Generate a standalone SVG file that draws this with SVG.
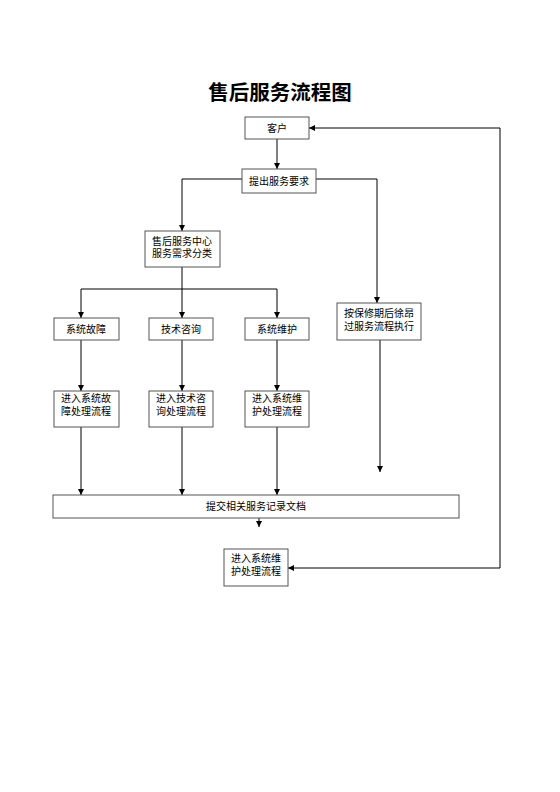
<svg xmlns="http://www.w3.org/2000/svg" width="560" height="792" viewBox="0 0 560 792">
<style>
.box{fill:#fff;stroke:#555;stroke-width:1}
.t{font-family:"Liberation Sans","Noto Sans CJK SC",sans-serif;font-size:10px;fill:#000;text-anchor:middle}
.title{font-family:"Noto Sans CJK SC",sans-serif;font-size:20.5px;font-weight:bold;fill:#000;text-anchor:middle}
.ln{fill:none;stroke:#000;stroke-width:1}
</style>
<defs>
<marker id="ar" markerWidth="6" markerHeight="6" refX="6" refY="3" orient="auto-start-reverse" markerUnits="userSpaceOnUse">
<path d="M0,0 L6,3 L0,6 Z" fill="#000"/>
</marker>
</defs>
<rect width="560" height="792" fill="#fff"/>
<text class="title" x="280" y="100">售后服务流程图</text>
<g id="connectors">
<path class="ln" d="M277,139 V169" marker-end="url(#ar)"/>
<path class="ln" d="M242,179 H182 V231" marker-end="url(#ar)"/>
<path class="ln" d="M316,179 H377 V303" marker-end="url(#ar)"/>
<path class="ln" d="M182,267 V318" marker-end="url(#ar)"/>
<path class="ln" d="M81,289 H277"/>
<path class="ln" d="M81,289 V318" marker-end="url(#ar)"/>
<path class="ln" d="M277,289 V318" marker-end="url(#ar)"/>
<path class="ln" d="M81,340 V391" marker-end="url(#ar)"/>
<path class="ln" d="M182,340 V391" marker-end="url(#ar)"/>
<path class="ln" d="M277,340 V391" marker-end="url(#ar)"/>
<path class="ln" d="M81,427 V495" marker-end="url(#ar)"/>
<path class="ln" d="M182,427 V495" marker-end="url(#ar)"/>
<path class="ln" d="M277,427 V495" marker-end="url(#ar)"/>
<path class="ln" d="M380,340 V472" marker-end="url(#ar)"/>
<path class="ln" d="M259,518 V527" marker-end="url(#ar)"/>
<path class="ln" d="M288,568 H500 V128 H309" marker-start="url(#ar)" marker-end="url(#ar)"/>
</g>
<g id="n_kehu"><rect class="box" x="245" y="117" width="64" height="22"/><text class="t" x="277" y="132">客户</text></g>
<g id="n_tichu"><rect class="box" x="242" y="169" width="74" height="24"/><text class="t" x="279" y="185">提出服务要求</text></g>
<g id="n_zhongxin"><rect class="box" x="145" y="231" width="75" height="36"/><text class="t" x="182" y="245">售后服务中心</text><text class="t" x="182" y="257">服务需求分类</text></g>
<g id="n_guzhang"><rect class="box" x="54" y="318" width="65" height="22"/><text class="t" x="86" y="333">系统故障</text></g>
<g id="n_zixun"><rect class="box" x="149" y="318" width="64" height="22"/><text class="t" x="181" y="333">技术咨询</text></g>
<g id="n_weihu"><rect class="box" x="245" y="318" width="64" height="22"/><text class="t" x="277" y="333">系统维护</text></g>
<g id="n_baoxiu"><rect class="box" x="337" y="303" width="84" height="37"/><text class="t" x="379" y="317">按保修期后徐昂</text><text class="t" x="379" y="330">过服务流程执行</text></g>
<g id="n_guzhang2"><rect class="box" x="54" y="391" width="65" height="36"/><text class="t" x="86" y="402">进入系统故</text><text class="t" x="86" y="415">障处理流程</text></g>
<g id="n_zixun2"><rect class="box" x="149" y="391" width="64" height="36"/><text class="t" x="181" y="402">进入技术咨</text><text class="t" x="181" y="415">询处理流程</text></g>
<g id="n_weihu2"><rect class="box" x="245" y="391" width="64" height="36"/><text class="t" x="277" y="402">进入系统维</text><text class="t" x="277" y="415">护处理流程</text></g>
<g id="n_tijiao"><rect class="box" x="53" y="495" width="406" height="23"/><text class="t" x="256" y="510">提交相关服务记录文档</text></g>
<g id="n_weihu3"><rect class="box" x="224" y="549" width="64" height="37"/><text class="t" x="256" y="562">进入系统维</text><text class="t" x="256" y="575">护处理流程</text></g>
</svg>
